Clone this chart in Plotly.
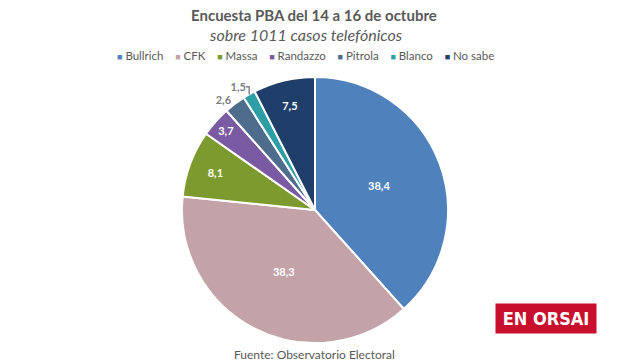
import plotly.graph_objects as go

categories = ["Bullrich", "CFK", "Massa", "Randazzo", "Pitrola", "Blanco", "No sabe"]
values = [38.4, 38.3, 8.1, 3.7, 2.6, 1.5, 7.5]
colors = ["#4F81BD", "#C4A3A8", "#7C9A2E", "#7A5AA3", "#4E6D8C", "#2E9EA6", "#1F3E6A"]
positions = ["inside", "inside", "inside", "inside", "outside", "outside", "inside"]

labels_txt = [f"{v:.1f}".replace(".", ",") for v in values]

W, H = 640, 362


def px(x):
    return x / W


def py(y):
    return 1 - y / H


cx, cy, r = 315, 210, 133

fig = go.Figure(go.Pie(
    labels=categories,
    values=values,
    text=labels_txt,
    textinfo="text",
    textposition=positions,
    insidetextorientation="horizontal",
    sort=False,
    direction="clockwise",
    rotation=0,
    marker=dict(colors=colors, line=dict(color="white", width=2)),
    insidetextfont=dict(color="white", size=11, family="Lato", weight="bold"),
    outsidetextfont=dict(color="#7F7F7F", size=11, family="Lato", weight="bold"),
    domain=dict(x=[px(cx - r), px(cx + r)], y=[py(cy + r), py(cy - r)]),
    hoverinfo="label+value",
    showlegend=False,
))

sep = "&nbsp;&nbsp;&nbsp;&nbsp;"
legend_text = sep.join(
    f"<span style='color:{c};font-size:9px'>■</span> {cat}" for cat, c in zip(categories, colors)
)

fig.update_layout(
    width=W, height=H,
    margin=dict(l=0, r=0, t=0, b=0),
    paper_bgcolor="white",
    plot_bgcolor="white",
    font=dict(family="Lato", color="#595959"),
    separators=",.",
    annotations=[
        dict(text="<b>Encuesta PBA del 14 a 16 de octubre</b>", x=px(313.5), y=py(15),
             xref="paper", yref="paper", showarrow=False, xanchor="center", yanchor="middle",
             font=dict(size=15, color="#595959")),
        dict(text="<i>sobre 1011 casos telefónicos</i>", x=px(306), y=py(34.5),
             xref="paper", yref="paper", showarrow=False, xanchor="center", yanchor="middle",
             font=dict(size=16, color="#595959")),
        dict(text=legend_text, x=px(305.5), y=py(55.5),
             xref="paper", yref="paper", showarrow=False, xanchor="center", yanchor="middle",
             font=dict(size=11.5, color="#595959")),
        dict(text="Fuente: Observatorio Electoral", x=px(314), y=py(354),
             xref="paper", yref="paper", showarrow=False, xanchor="center", yanchor="middle",
             font=dict(size=12, color="#595959")),
        dict(text="<b>EN ORSAI</b>", x=px(546), y=py(318.5), xref="paper", yref="paper",
             xanchor="center", yanchor="middle",
             showarrow=False, bgcolor="#C8102E", borderpad=4, width=92, height=21,
             font=dict(size=18, color="white",
                       family="Liberation Sans Narrow, DejaVu Sans Condensed, Roboto, sans-serif")),
    ],
)

fig.write_html(
    "out.html",
    config={"displayModeBar": False},
    post_script="document.body.style.margin='0';",
)
